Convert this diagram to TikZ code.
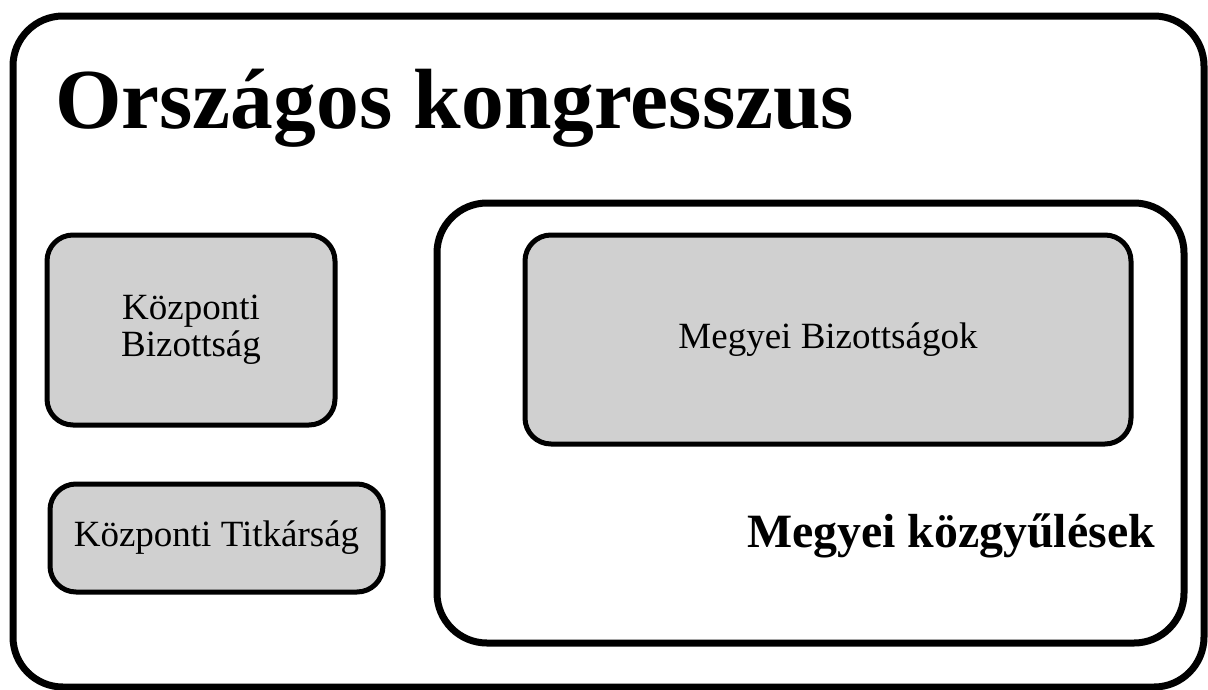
\documentclass[tikz,border=0pt]{standalone}
\usepackage{fontspec}
\setmainfont{Liberation Serif}
\usetikzlibrary{shadows}
\definecolor{unitgray}{RGB}{208,208,208}

\begin{document}
\begin{tikzpicture}[x=1pt, y=-1pt,
    frame/.style={rectangle, draw, line width=7pt, fill=white, rounded corners=50pt, inner sep=0pt,
        drop shadow={shadow xshift=1pt, shadow yshift=-2.5pt, opacity=.25}},
    unit/.style={rectangle, draw, line width=5pt, fill=unitgray, rounded corners=26pt, inner sep=0pt,
        align=center, font=\fontsize{37}{37}\selectfont,
        drop shadow={shadow xshift=1pt, shadow yshift=-2pt, opacity=.2}}]
    \useasboundingbox (0,0) rectangle (1208,689);

    \node[frame, minimum width=1191pt, minimum height=671pt] (congress) at (608.5,351.5) {};
    \node[anchor=base west, inner sep=0pt, font=\fontsize{85.5}{90}\selectfont\bfseries] (title) at (55,128) {Országos kongresszus};

    \node[unit, minimum width=288pt, minimum height=190pt] (cc) at (191,330) {Központi\\Bizottság};
    \node[unit, minimum width=333pt, minimum height=108pt] (sec) at (216.5,538) {Központi Titkárság};

    \node[frame, minimum width=747pt, minimum height=440pt] (assembly) at (810.5,423) {};
    \node[unit, minimum width=606pt, minimum height=209pt] (county) at (828,339.5) {Megyei Bizottságok};
    \node[anchor=base, inner sep=0pt, font=\fontsize{47.8}{50}\selectfont\bfseries] (label) at (951,547) {Megyei közgyűlések};
\end{tikzpicture}
\end{document}
